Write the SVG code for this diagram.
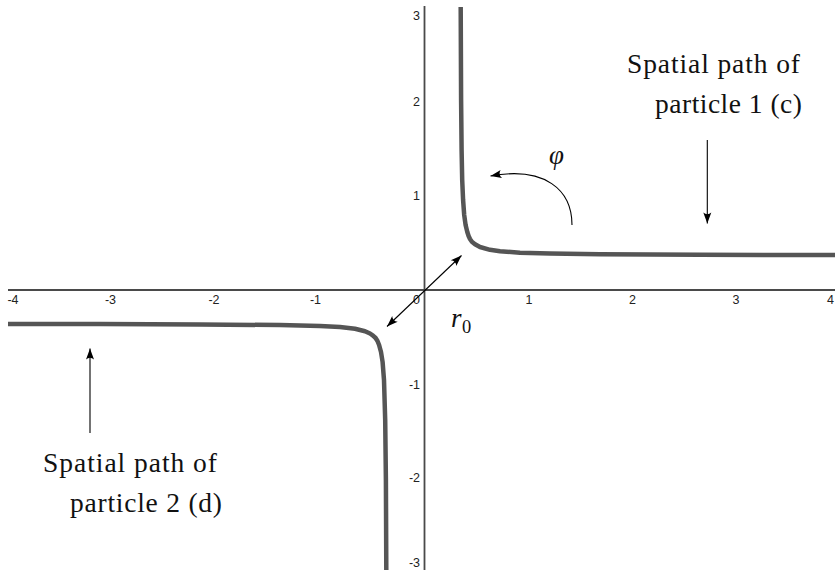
<svg xmlns="http://www.w3.org/2000/svg" width="835" height="570" viewBox="0 0 835 570">
<style>
.axis{stroke:#4a4a4a;stroke-width:1.8;fill:none}
.curve{stroke:#555;stroke-width:4.5;fill:none;stroke-linejoin:round;stroke-linecap:butt}
.tick{font-family:"Liberation Sans",Arial,sans-serif;font-size:12.5px;fill:#222}
.conn{stroke:#000;stroke-width:1.1;fill:none}
.lbl{font-family:"Liberation Serif","Times New Roman",serif;font-size:27.5px;fill:#111}
.math{font-family:"Liberation Serif","Times New Roman",serif;font-style:italic;fill:#111}
</style>
<defs>
<marker id="ah" viewBox="-12 -5 13 10" refX="0" refY="0" markerWidth="13" markerHeight="10" markerUnits="userSpaceOnUse" orient="auto-start-reverse">
<path d="M0,0 L-11,-4 Q-7.5,0 -11,4 Z" fill="#000"/>
</marker>
</defs>
<rect width="835" height="570" fill="#fff"/>
<g id="axes">
<line class="axis" x1="8" y1="290" x2="835" y2="290"/>
<line class="axis" x1="424.5" y1="6" x2="424.5" y2="570"/>
</g>
<g id="tick-labels" class="tick">
<text x="18.5" y="304" text-anchor="end">-4</text>
<text x="116" y="304" text-anchor="end">-3</text>
<text x="219.5" y="304" text-anchor="end">-2</text>
<text x="321" y="304" text-anchor="end">-1</text>
<text x="420" y="304" text-anchor="end">0</text>
<text x="529" y="304" text-anchor="middle">1</text>
<text x="632.5" y="304" text-anchor="middle">2</text>
<text x="736" y="304" text-anchor="middle">3</text>
<text x="827" y="304">4</text>
<text x="420" y="20" text-anchor="end">3</text>
<text x="420" y="105.5" text-anchor="end">2</text>
<text x="420" y="199.5" text-anchor="end">1</text>
<text x="420" y="388.5" text-anchor="end">-1</text>
<text x="420" y="482" text-anchor="end">-2</text>
<text x="420" y="567" text-anchor="end">-3</text>
</g>
<g id="path-particle-1">
<path class="curve" d="M460.7,7 L461.1,100 L461.6,150 L462.2,180 L463.1,200 L464.2,215 L465.6,225 L467.3,232 L468.6,236 L470.0,239 L471.9,241.7 L475,244.2 L480,247.0 L490,249.8 L500,251.3 L520,252.7 L550,253.6 L600,254.3 L700,254.8 L835,255.1"/>
</g>
<g id="path-particle-2">
<path class="curve" d="M8,323.9 L100,324.1 L200,324.4 L280,325.1 L320,326.0 L340,327.1 L355,328.8 L365,331.2 L370,333.5 L373,335.6 L375.6,338 L377.5,341 L379.1,345 L381.0,352 L382.6,362 L384.0,380 L385.2,420 L385.9,480 L386.3,570"/>
</g>
<g id="connectors">
<line class="conn" x1="707.3" y1="140" x2="707.3" y2="223.5" marker-end="url(#ah)"/>
<line class="conn" x1="90" y1="433" x2="90" y2="348.5" marker-end="url(#ah)"/>
<line class="conn" x1="387" y1="326.5" x2="461.5" y2="255.5" marker-start="url(#ah)" marker-end="url(#ah)"/>
<path class="conn" d="M572,225 C572,190 545,166 490.5,176" marker-end="url(#ah)"/>
</g>
<g id="label-particle-1" class="lbl">
<text x="627" y="73" textLength="173" lengthAdjust="spacing">Spatial path of</text>
<text x="655" y="113" textLength="147" lengthAdjust="spacing">particle 1 (c)</text>
</g>
<g id="label-particle-2" class="lbl">
<text x="43" y="472" textLength="174" lengthAdjust="spacing">Spatial path of</text>
<text x="70" y="512" textLength="152" lengthAdjust="spacing">particle 2 (d)</text>
</g>
<g id="label-r0">
<text class="math" x="451" y="327" font-size="27">r</text>
<text x="462" y="332.5" font-family="Liberation Serif,'Times New Roman',serif" font-size="18.5" fill="#111">0</text>
</g>
<g id="label-phi">
<text class="math" x="549" y="164" font-size="27">φ</text>
</g>
</svg>
